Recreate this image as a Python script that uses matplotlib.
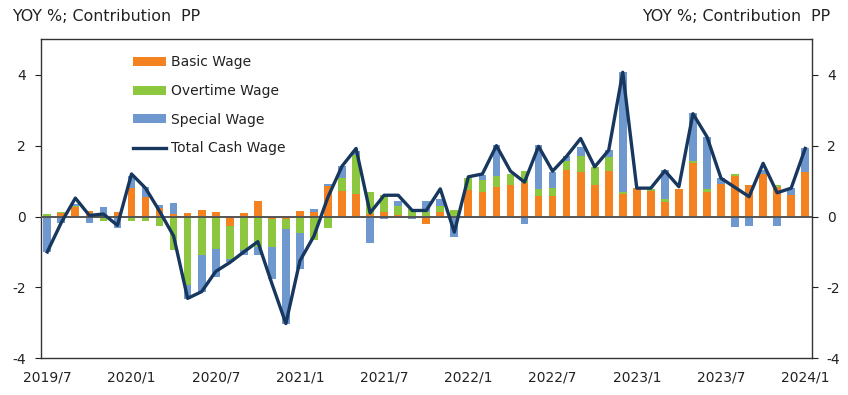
import numpy as np
import matplotlib
matplotlib.use('Agg')
import matplotlib.pyplot as plt

plt.rcParams['font.family'] = ['DejaVu Sans']
plt.rcParams['axes.unicode_minus'] = False

# monthly, 2019/7 .. 2024/1
months = ['2019/7', '2019/8', '2019/9', '2019/10', '2019/11', '2019/12',
          '2020/1', '2020/2', '2020/3', '2020/4', '2020/5', '2020/6',
          '2020/7', '2020/8', '2020/9', '2020/10', '2020/11', '2020/12',
          '2021/1', '2021/2', '2021/3', '2021/4', '2021/5', '2021/6',
          '2021/7', '2021/8', '2021/9', '2021/10', '2021/11', '2021/12',
          '2022/1', '2022/2', '2022/3', '2022/4', '2022/5', '2022/6',
          '2022/7', '2022/8', '2022/9', '2022/10', '2022/11', '2022/12',
          '2023/1', '2023/2', '2023/3', '2023/4', '2023/5', '2023/6',
          '2023/7', '2023/8', '2023/9', '2023/10', '2023/11', '2023/12',
          '2024/1']

basic = [0.00, 0.11, 0.28, 0.16, 0.00, 0.14, 0.80, 0.54, 0.24, 0.08, 0.09,
         0.19, 0.14, -0.28, 0.09, 0.45, -0.08, -0.08, 0.16, 0.14, 0.87,
         0.71, 0.64, 0.06, 0.12, 0.03, 0.00, -0.22, 0.12, 0.00, 0.76,
         0.69, 0.83, 0.88, 0.95, 0.58, 0.59, 1.32, 1.26, 0.89, 1.29,
         0.64, 0.80, 0.72, 0.42, 0.77, 1.52, 0.70, 0.92, 1.15, 0.89,
         1.19, 0.82, 0.61, 1.26]
overtime = [0.08, 0.03, 0.02, -0.02, -0.14, -0.03, -0.14, -0.14, -0.28, -0.94,
            -1.93, -1.10, -0.92, -0.93, -0.94, -0.87, -0.79, -0.28, -0.47,
            -0.66, -0.33, 0.37, 1.10, 0.63, 0.49, 0.28, 0.22, 0.12, 0.19,
            0.17, 0.33, 0.34, 0.31, 0.33, 0.32, 0.19, 0.21, 0.26, 0.44,
            0.51, 0.38, 0.06, 0.00, 0.06, 0.07, -0.04, 0.04, 0.07, 0.00,
            0.04, 0.00, -0.03, 0.07, -0.03, 0.00]
special = [-1.00, -0.19, 0.05, -0.17, 0.28, -0.30, 0.35, 0.30, 0.08, 0.30,
           -0.40, -1.02, -0.78, -0.08, -0.14, -0.21, -0.88, -2.66, -1.02,
           0.08, 0.05, 0.34, 0.12, -0.74, -0.08, 0.14, -0.07, 0.31, 0.19,
           -0.58, 0.00, 0.13, 0.87, 0.00, -0.20, 1.24, 0.46, 0.14, 0.27,
           0.00, 0.20, 3.37, -0.05, 0.00, 0.82, 0.00, 1.36, 1.48, 0.16,
           -0.30, -0.28, 0.12, -0.26, 0.19, 0.66]
total = [-1.00, -0.17, 0.52, 0.03, 0.07, -0.25, 1.20, 0.80, 0.15, -0.55,
         -2.31, -2.12, -1.55, -1.30, -1.00, -0.71, -1.89, -3.02, -1.25,
         -0.55, 0.55, 1.42, 1.92, 0.10, 0.60, 0.60, 0.17, 0.17, 0.78,
         -0.44, 1.12, 1.20, 2.00, 1.28, 0.97, 1.98, 1.28, 1.70, 2.20,
         1.40, 1.87, 4.07, 0.80, 0.80, 1.29, 0.84, 2.90, 2.25, 1.08,
         0.82, 0.56, 1.50, 0.67, 0.80, 1.92]

series = [('Basic Wage', basic, '#F58220'),
          ('Overtime Wage', overtime, '#8DC63F'),
          ('Special Wage', special, '#6F98CF')]

x = np.arange(len(months))
fig = plt.figure(figsize=(8.48, 3.95), dpi=100)
ax = fig.add_axes([0.0483, 0.093, 0.9087, 0.8075])

pos_bottom = np.zeros(len(x))
neg_bottom = np.zeros(len(x))
handles = []
for name, vals, col in series:
    v = np.array(vals)
    bottom = np.where(v >= 0, pos_bottom, neg_bottom)
    h = ax.bar(x, v, 0.55, bottom=bottom, color=col, label=name, zorder=2)
    handles.append(h)
    pos_bottom = pos_bottom + np.where(v >= 0, v, 0)
    neg_bottom = neg_bottom + np.where(v < 0, v, 0)

ax.axhline(0, color='#555555', lw=1.4, zorder=3)
ln, = ax.plot(x, total, color='#17375E', lw=2.4, label='Total Cash Wage', zorder=4)
handles.append(ln)

ax.set_xlim(-0.45, 54.45)
ax.set_ylim(-4, 5)
ax.set_yticks([-4, -2, 0, 2, 4])
ax.set_xticks(x[::6])
ax.set_xticklabels(months[::6])
ax.tick_params(axis='x', length=0, labelsize=10, pad=9, colors='#222222')
ax.tick_params(axis='y', length=4, labelsize=10, colors='#222222', pad=7,
               direction='out', left=True, right=True, labelleft=True, labelright=True)
for s in ax.spines.values():
    s.set_color('#333333')
    s.set_linewidth(1.0)

leg = ax.legend(handles=handles, loc='upper left', bbox_to_anchor=(0.107, 0.98),
                frameon=False, fontsize=10, handlelength=2.4, handleheight=0.6,
                labelspacing=1.05, handletextpad=0.35, borderpad=0.2)
for t in leg.get_texts():
    t.set_color('#222222')

fig.text(0.014, 0.957, 'YOY %; Contribution  PP', fontsize=11.4, color='#222222',
         va='center', ha='left')
fig.text(0.979, 0.957, 'YOY %; Contribution  PP', fontsize=11.4, color='#222222',
         va='center', ha='right')

fig.savefig('out.png', dpi=100)
